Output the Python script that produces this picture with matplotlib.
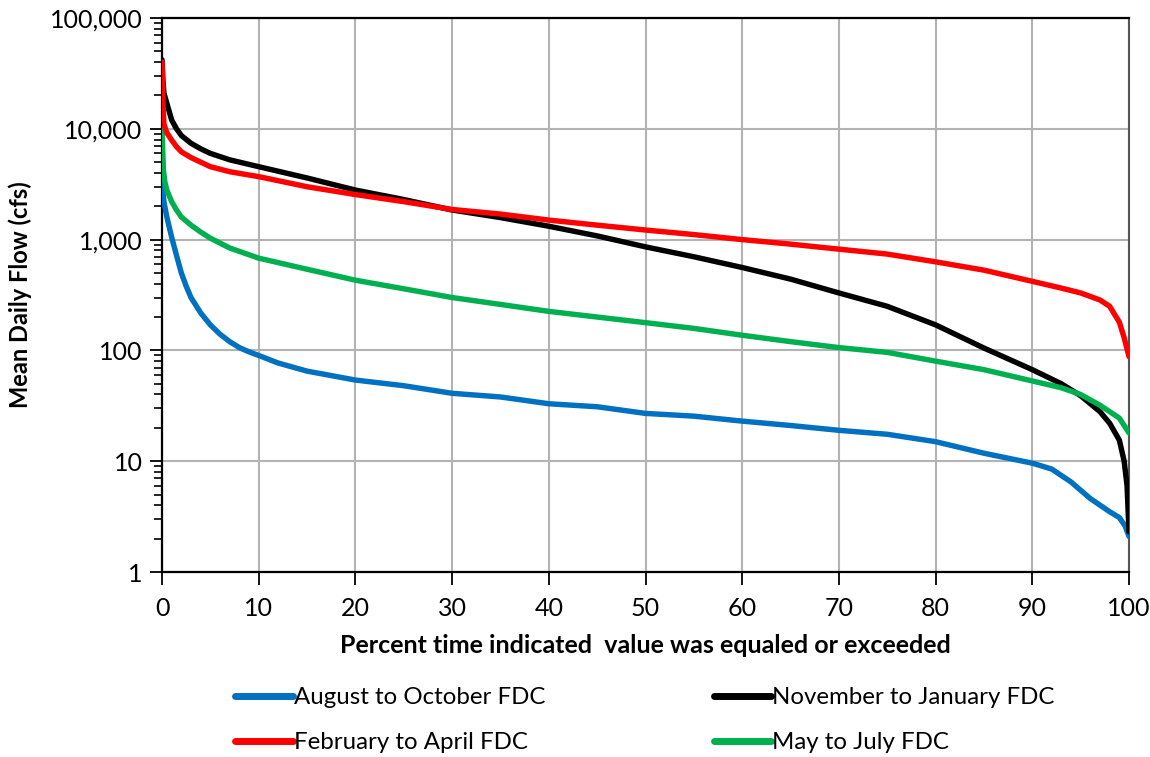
import matplotlib
matplotlib.use("Agg")
import matplotlib.pyplot as plt
from matplotlib.ticker import FixedLocator, LogLocator, NullFormatter, FuncFormatter

plt.rcParams['font.family'] = ['Lato', 'DejaVu Sans']

# Percent exceedance positions and flows (cfs)
pct_aug = [0, 0.2, 0.5, 1, 1.5, 2, 2.5, 3, 4, 5, 6, 7, 8, 9, 10, 12, 15, 20, 25, 30, 35, 40, 45,
           50, 55, 60, 65, 70, 75, 80, 85, 90, 92, 94, 96, 98, 99, 99.6, 100]
aug_oct = [3300, 2200, 1600, 1050, 720, 500, 380, 300, 218, 170, 140, 120, 106, 97, 90, 77, 65, 54, 48, 41, 38, 33, 31,
           27, 25.5, 23, 21, 19, 17.5, 15, 11.8, 9.6, 8.5, 6.5, 4.6, 3.5, 3.1, 2.6, 2.1]

pct_nov = [0, 0.1, 0.2, 0.5, 1, 1.5, 2, 3, 4, 5, 7, 10, 15, 20, 25, 30, 35, 40, 45, 50, 55, 60,
           65, 70, 75, 80, 85, 90, 93, 95, 97, 98, 99, 99.5, 99.8, 100]
nov_jan = [42000, 27000, 21000, 17000, 12000, 10000, 8700, 7400, 6600, 6000, 5250, 4550, 3600, 2800, 2300, 1850, 1580, 1320, 1080, 860, 700, 560,
           440, 330, 250, 170, 105, 67, 50, 39, 28, 22, 15.5, 10, 6, 2.3]

pct_feb = [0, 0.1, 0.2, 0.5, 1, 1.5, 2, 3, 4, 5, 7, 10, 15, 20, 25, 30, 35, 40, 45, 50, 55, 60,
           65, 70, 75, 80, 85, 90, 93, 95, 97, 98, 99, 99.5, 100]
feb_apr = [40000, 17000, 11000, 9200, 7900, 6900, 6200, 5500, 5000, 4550, 4100, 3700, 3000, 2550, 2200, 1870, 1700, 1500, 1350, 1220, 1110, 1000,
           910, 820, 740, 630, 530, 420, 365, 330, 285, 250, 180, 130, 88]

pct_may = [0, 0.15, 0.3, 0.5, 1, 1.5, 2, 3, 4, 5, 7, 10, 15, 20, 25, 30, 35, 40, 45, 50, 55, 60,
           65, 70, 75, 80, 85, 90, 93, 95, 97, 98, 99, 100]
may_jul = [9800, 4250, 3300, 2800, 2200, 1850, 1600, 1350, 1170, 1030, 840, 680, 540, 430, 360, 300, 260, 225, 200, 178, 158, 137,
           120, 106, 96, 80, 67, 53, 46, 40, 32, 28, 24.5, 18]

labels = ["August to October FDC", "February to April FDC",
          "November to January FDC", "May to July FDC"]
colors = ["#0070C0", "#FF0000", "#000000", "#00B050"]

y_ticks = [1, 10, 100, 1000, 10000, 100000]
x_ticks = [0, 10, 20, 30, 40, 50, 60, 70, 80, 90, 100]

fig = plt.figure(figsize=(11.5, 7.57), dpi=100)
ax = fig.add_axes([162/1150, 1-572/757, (1129-162)/1150, (572-18)/757])

lw = 3.9
kw = dict(lw=lw, solid_capstyle='round', solid_joinstyle='round')
l_aug, = ax.plot(pct_aug, aug_oct, color=colors[0], zorder=3, **kw)
l_feb, = ax.plot(pct_feb, feb_apr, color=colors[1], zorder=4, **kw)
l_nov, = ax.plot(pct_nov, nov_jan, color=colors[2], zorder=3, **kw)
l_may, = ax.plot(pct_may, may_jul, color=colors[3], zorder=3, **kw)

ax.set_yscale('log')
ax.set_ylim(1, 100000)
ax.set_xlim(0, 100)
ax.yaxis.set_major_locator(FixedLocator(y_ticks))
ax.yaxis.set_minor_locator(LogLocator(base=10, subs=range(2, 10)))
ax.yaxis.set_minor_formatter(NullFormatter())
ax.yaxis.set_major_formatter(FuncFormatter(lambda v, p: f"{int(round(v)):,}"))
ax.xaxis.set_major_locator(FixedLocator(x_ticks))

ax.grid(True, which='major', color='#b3b3b3', lw=1.5, zorder=0)
ax.set_axisbelow(True)

ax.tick_params(axis='both', which='major', direction='out', length=9, width=1.3,
               labelsize=18, colors='black', pad=5)
ax.tick_params(axis='y', which='minor', direction='out', length=6, width=1.2)
ax.tick_params(axis='x', pad=9)

for side in ['left', 'bottom', 'top']:
    ax.spines[side].set_linewidth(1.6)
    ax.spines[side].set_color('black')
ax.spines['right'].set_color('#555555')
ax.spines['right'].set_linewidth(1.5)

ax.set_xlabel("Percent time indicated  value was equaled or exceeded",
              fontsize=18, fontweight='bold', labelpad=10)
ax.set_ylabel("Mean Daily Flow (cfs)", fontsize=17, fontweight='bold', labelpad=13)

leg = fig.legend([l_aug, l_feb, l_nov, l_may], labels, ncol=2, loc='center',
                 bbox_to_anchor=(645/1150, 1-720/757), frameon=False,
                 fontsize=17.3, handlelength=2.4, handletextpad=0.05,
                 columnspacing=7.0, labelspacing=1.0)
for h in leg.legend_handles:
    h.set_linewidth(5)

fig.savefig("out.png", dpi=100)
